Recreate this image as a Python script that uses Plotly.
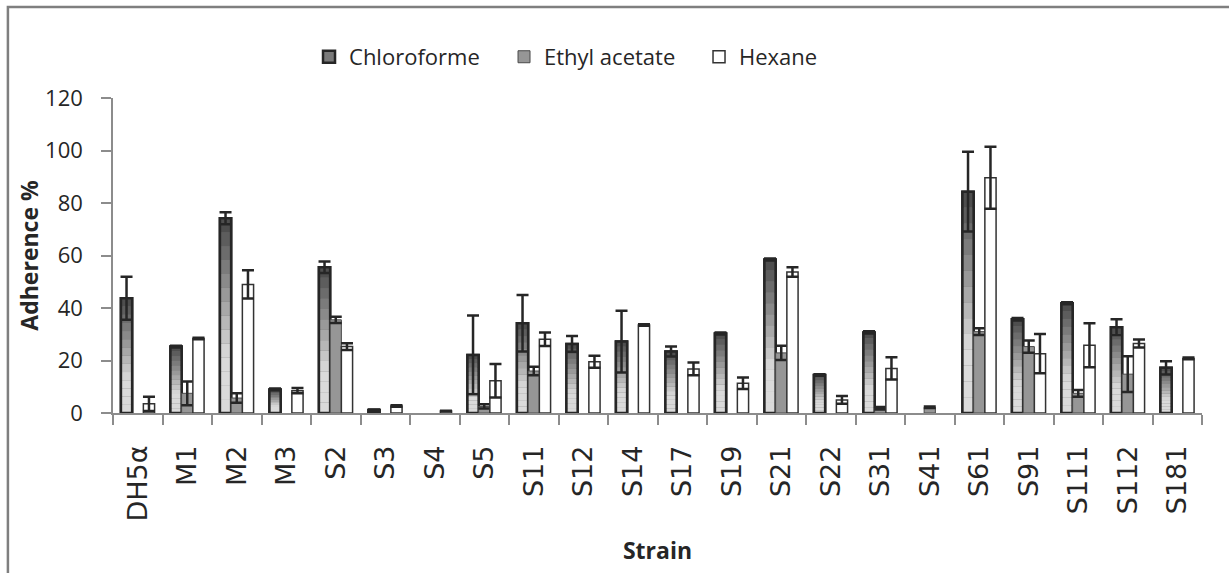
import plotly.graph_objects as go

strains = ["DH5α", "M1", "M2", "M3", "S2", "S3", "S4", "S5", "S11", "S12", "S14",
           "S17", "S19", "S21", "S22", "S31", "S41", "S61", "S91", "S111", "S112", "S181"]

chloroforme = [43.7, 25.3, 74.2, 9.0, 55.5, 1.1, 0, 22.1, 34.2, 26.3, 27.2,
               23.4, 30.3, 58.5, 14.5, 30.7, 0, 84.3, 35.7, 41.8, 32.7, 17.2]
chloroforme_err = [8.2, 0.3, 2.3, 0.3, 2.2, 0.2, 0, 15.0, 10.8, 3.0, 11.8,
                   1.9, 0.4, 0.4, 0.3, 0.4, 0, 15.2, 0.5, 0.4, 3.0, 2.5]

ethyl_acetate = [0, 7.5, 5.7, 0, 35.5, 0, 0, 2.5, 16.0, 0, 0,
                 0, 0, 22.9, 0, 1.8, 2.2, 31.0, 25.3, 7.5, 14.8, 0]
ethyl_acetate_err = [0, 4.5, 1.8, 0, 1.2, 0, 0, 0.8, 1.6, 0, 0,
                     0, 0, 2.7, 0, 0.5, 0.3, 1.3, 2.3, 1.3, 6.8, 0]

hexane = [3.5, 28.4, 49.0, 8.5, 25.3, 2.7, 0.8, 12.3, 28.1, 19.5, 33.5,
          16.8, 11.3, 53.7, 5.0, 17.0, 0, 89.6, 22.6, 25.8, 26.5, 20.8]
hexane_err = [2.7, 0.3, 5.4, 1.0, 1.3, 0.3, 0.1, 6.4, 2.6, 2.3, 0.3,
              2.4, 2.2, 1.8, 1.5, 4.2, 0, 11.8, 7.5, 8.4, 1.5, 0.3]

y_ticks = [0, 20, 40, 60, 80, 100, 120]

TXT = "Open Sans, sans-serif"
DARK = "#262626"
AX = "#8c8c8c"


def nz(values):
    # empty (zero) bars are not drawn at all
    return [v if v else None for v in values]


fig = go.Figure()

# Chloroforme: base bar (legend entry)
fig.add_trace(go.Bar(
    x=strains, y=nz(chloroforme), name="Chloroforme", offsetgroup="c",
    marker=dict(color="#7a7a7a", line=dict(color=DARK, width=2.5)),
    hoverinfo="skip"))

# vertical gradient built from stacked slices of each chloroforme bar
K = 14
def shade(f):
    if f < 0.3:
        g = 218
    else:
        g = int(round(218 - (218 - 70) * (f - 0.3) / 0.7))
    return f"rgb({g},{g},{g})"

for i in range(K):
    f = (i + 0.5) / K
    fig.add_trace(go.Bar(
        x=strains,
        y=[v / K if v else None for v in chloroforme],
        base=[v * i / K for v in chloroforme],
        offsetgroup="c", showlegend=False, hoverinfo="skip",
        marker=dict(color=shade(f), line=dict(width=0))))

# Chloroforme outline + error bars
fig.add_trace(go.Bar(
    x=strains, y=nz(chloroforme), offsetgroup="c", showlegend=False,
    marker=dict(color="rgba(0,0,0,0)", line=dict(color=DARK, width=2.5)),
    error_y=dict(type="data", array=chloroforme_err, color=DARK, thickness=2.5, width=6),
    hoverinfo="skip"))

fig.add_trace(go.Bar(
    x=strains, y=nz(ethyl_acetate), name="Ethyl acetate", offsetgroup="e",
    marker=dict(color="#969696", line=dict(color="#4a4a4a", width=1)),
    error_y=dict(type="data", array=ethyl_acetate_err, color=DARK, thickness=2.5, width=6)))

fig.add_trace(go.Bar(
    x=strains, y=nz(hexane), name="Hexane", offsetgroup="h",
    marker=dict(color="#ffffff", line=dict(color="#333333", width=1.5)),
    error_y=dict(type="data", array=hexane_err, color=DARK, thickness=2.5, width=6)))

fig.update_layout(
    width=1229, height=573,
    margin=dict(l=113, r=27, t=98, b=160, autoexpand=False),
    paper_bgcolor="white", plot_bgcolor="white",
    barmode="group", bargap=0.32, bargroupgap=0,
    font=dict(family=TXT, color="#262626", size=20),
    legend=dict(orientation="h", x=0.18, xanchor="left", y=1.197, yanchor="top",
                font=dict(family=TXT, size=22, color="#262626"),
                entrywidth=150, entrywidthmode="pixels",
                bgcolor="rgba(0,0,0,0)", traceorder="normal"),
    showlegend=True,
)

fig.update_yaxes(
    range=[0, 120], tickvals=y_ticks, showgrid=False, zeroline=False,
    showline=True, linecolor=AX, linewidth=1.5,
    ticks="outside", ticklen=10, tickcolor=AX, tickwidth=1.5,
    ticklabelstandoff=14,
    tickfont=dict(family=TXT, size=22, color="#262626"),
    title=dict(text="<b>Adherence %</b>", font=dict(family=TXT, size=23, color="#262626"),
               standoff=0))

fig.update_xaxes(
    showgrid=False, showline=True, linecolor=AX, linewidth=1.5,
    ticks="outside", ticklen=10, tickcolor=AX, tickwidth=1.5, tickson="boundaries",
    tickangle=-90, ticklabelstandoff=20,
    tickfont=dict(family="DejaVu Sans", size=27, color="#262626"),
    title=dict(text="<b>Strain</b>", font=dict(family=TXT, size=23, color="#262626"),
               standoff=22))

# outer chart frame
fig.add_shape(type="rect", xref="paper", yref="paper",
              x0=-0.0965, x1=1.2, y0=-0.7, y1=1.289,
              line=dict(color="#7f7f7f", width=2.5), fillcolor="rgba(0,0,0,0)",
              layer="below")

fig.write_html("out.html")
